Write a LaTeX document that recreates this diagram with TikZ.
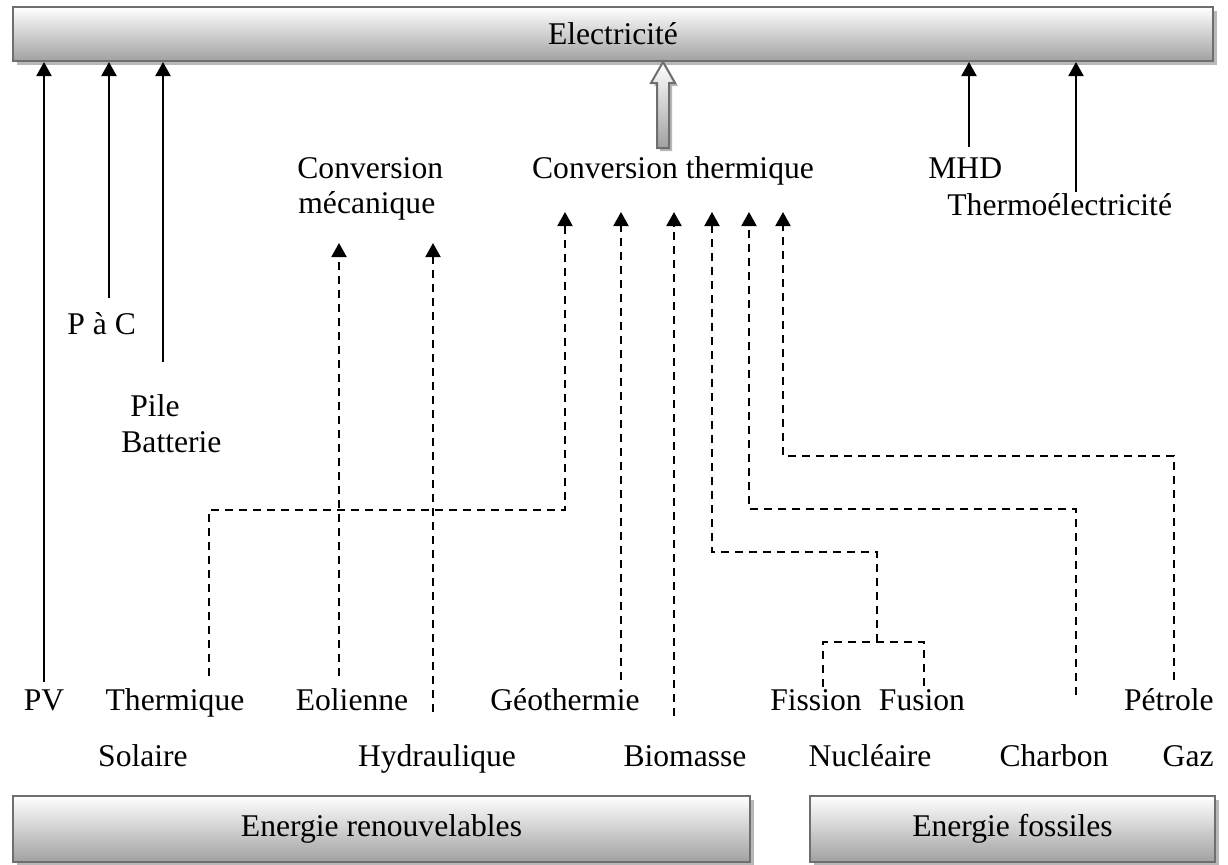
\documentclass[tikz,border=0pt]{standalone}
\usepackage{fontspec}
\setmainfont{Liberation Serif}
\usetikzlibrary{arrows.meta,shadows}
\begin{document}
\begin{tikzpicture}[x=0.5pt,y=-0.5pt,
  lbl/.style={inner sep=0pt, anchor=base, font=\fontsize{15.8}{18}\selectfont},
  barbox/.style={draw=black!57, line width=1pt, top color=white, bottom color=black!37,
    inner sep=0pt, font=\fontsize{15.8}{18}\selectfont,
    drop shadow={shadow xshift=2pt, shadow yshift=-2pt, fill=black!28, opacity=1}},
  sol/.style={line width=1pt, -{Triangle[width=7.5pt,length=7pt]}},
  dsh/.style={line width=1pt, dash pattern=on 4pt off 3pt, -{Triangle[width=7.5pt,length=7pt]}},
  dl/.style={line width=1pt, dash pattern=on 4pt off 3pt}
]
\useasboundingbox (0,0) rectangle (1228,864);

% boxes
\node[barbox, minimum width=600pt, minimum height=27pt] (elec) at (613,34) {Electricit\'e};
\node[barbox, minimum width=368.5pt, minimum height=33pt] (ren) at (381.5,829) {Energie renouvelables};
\node[barbox, minimum width=202.5pt, minimum height=33pt] (fos) at (1012.5,829) {Energie fossiles};

% labels
\node[lbl] (pv) at (44,710) {PV};
\node[lbl] (therm) at (175,710) {Thermique};
\node[lbl] (eol) at (352,710) {Eolienne};
\node[lbl] (geo) at (565,710) {G\'eothermie};
\node[lbl] (fis) at (816,710) {Fission};
\node[lbl] (fus) at (922,710) {Fusion};
\node[lbl, anchor=base east] (pet) at (1214,710) {P\'etrole};
\node[lbl] (sol) at (143,766) {Solaire};
\node[lbl] (hyd) at (437,766) {Hydraulique};
\node[lbl] (bio) at (685,766) {Biomasse};
\node[lbl] (nuc) at (870,766) {Nucl\'eaire};
\node[lbl] (cha) at (1054,766) {Charbon};
\node[lbl, anchor=base east] (gaz) at (1214,766) {Gaz};
\node[lbl, anchor=base west] (cm1) at (297,178) {Conversion};
\node[lbl, anchor=base west] (cm2) at (298,213) {m\'ecanique};
\node[lbl] (ct) at (673,178) {Conversion thermique};
\node[lbl, anchor=base west] (mhd) at (928,178) {MHD};
\node[lbl, anchor=base west] (tel) at (947,215) {Thermo\'electricit\'e};
\node[lbl, anchor=base west] (pac) at (67,334) {P \`a C};
\node[lbl, anchor=base west] (pile) at (130,416) {Pile};
\node[lbl, anchor=base west] (bat) at (121,452) {Batterie};

% connector coordinates
\coordinate (pvT) at (44,682);
\coordinate (pacT) at (109,298);
\coordinate (pileT) at (163,362);
\coordinate (mhdT) at (969,147);
\coordinate (telT) at (1076,192);

\draw[sol] (pvT) -- (pvT |- elec.south);
\draw[sol] (pacT) -- (pacT |- elec.south);
\draw[sol] (pileT) -- (pileT |- elec.south);
\draw[sol] (mhdT) -- (mhdT |- elec.south);
\draw[sol] (telT) -- (telT |- elec.south);

% hollow arrow
\fill[black!28] (666,65) -- (678,86) -- (672,86) -- (672,151) -- (660,151) -- (660,86) -- (654,86) -- cycle;
\shade[top color=white, bottom color=black!37, draw=black!57, line width=1pt]
  (663,62) -- (675,83) -- (669,83) -- (669,148) -- (657,148) -- (657,83) -- (651,83) -- cycle;

% dashed connectors
\coordinate (thB) at (209,676);
\coordinate (eoB) at (339,676);
\coordinate (hyB) at (433,712);
\coordinate (geB) at (621,680);
\coordinate (biB) at (674,716);
\coordinate (nuJ) at (877,642);
\coordinate (chB) at (1076,695);
\coordinate (peB) at (1174,680);
\coordinate (fiB) at (823,687);
\coordinate (fuB) at (924,687);

\draw[dsh] (thB) -- (209,510) -- (565,510) -- (565,212);
\draw[dsh] (eoB) -- (339,243);
\draw[dsh] (hyB) -- (433,243);
\draw[dsh] (geB) -- (621,212);
\draw[dsh] (biB) -- (674,212);
\draw[dsh] (nuJ) -- (877,552) -- (712,552) -- (712,212);
\draw[dl] (fiB) -- (823,642) -- (924,642) -- (fuB);
\draw[dsh] (chB) -- (1076,509) -- (749,509) -- (749,212);
\draw[dsh] (peB) -- (1174,456) -- (783,456) -- (783,212);
\end{tikzpicture}
\end{document}
